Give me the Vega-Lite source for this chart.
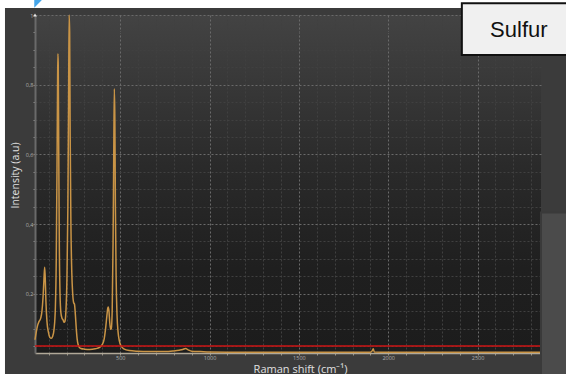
{
  "$schema": "https://vega.github.io/schema/vega-lite/v6.json",
  "width": 506,
  "height": 338,
  "autosize": {"type": "none"},
  "padding": {"left": 35, "top": 15, "right": 25, "bottom": 21},
  "background": "#3b3b3b",
  "config": {
    "view": {
      "stroke": null,
      "fill": {
        "gradient": "linear",
        "x1": 0, "y1": 0, "x2": 0, "y2": 1,
        "stops": [
          {"offset": 0, "color": "#434343"},
          {"offset": 0.45, "color": "#2a2a2a"},
          {"offset": 0.75, "color": "#1f1f1f"},
          {"offset": 1, "color": "#1c1c1c"}
        ]
      }
    },
    "font": "Open Sans"
  },
  "data": {"values": [{}]},
  "datasets": {
    "spectrum": [
      {"shift": 23, "intensity": 0.068},
      {"shift": 30, "intensity": 0.09},
      {"shift": 38, "intensity": 0.11},
      {"shift": 45, "intensity": 0.12},
      {"shift": 55, "intensity": 0.13},
      {"shift": 62, "intensity": 0.15},
      {"shift": 68, "intensity": 0.19},
      {"shift": 73, "intensity": 0.24},
      {"shift": 77, "intensity": 0.276},
      {"shift": 80, "intensity": 0.25},
      {"shift": 84, "intensity": 0.18},
      {"shift": 90, "intensity": 0.12},
      {"shift": 98, "intensity": 0.09},
      {"shift": 106, "intensity": 0.075},
      {"shift": 114, "intensity": 0.072},
      {"shift": 122, "intensity": 0.078},
      {"shift": 130, "intensity": 0.1},
      {"shift": 137, "intensity": 0.16},
      {"shift": 142, "intensity": 0.3},
      {"shift": 146, "intensity": 0.55},
      {"shift": 149, "intensity": 0.78},
      {"shift": 151, "intensity": 0.889},
      {"shift": 153, "intensity": 0.86},
      {"shift": 156, "intensity": 0.6},
      {"shift": 159, "intensity": 0.35},
      {"shift": 163, "intensity": 0.2},
      {"shift": 168, "intensity": 0.145},
      {"shift": 174, "intensity": 0.13},
      {"shift": 180, "intensity": 0.125},
      {"shift": 186, "intensity": 0.118},
      {"shift": 190, "intensity": 0.12},
      {"shift": 196, "intensity": 0.15},
      {"shift": 202, "intensity": 0.25},
      {"shift": 207, "intensity": 0.45},
      {"shift": 211, "intensity": 0.75},
      {"shift": 214, "intensity": 1.0},
      {"shift": 217, "intensity": 0.95},
      {"shift": 220, "intensity": 0.65},
      {"shift": 224, "intensity": 0.4},
      {"shift": 229, "intensity": 0.26},
      {"shift": 234, "intensity": 0.2},
      {"shift": 239, "intensity": 0.175},
      {"shift": 244, "intensity": 0.17},
      {"shift": 249, "intensity": 0.14},
      {"shift": 254, "intensity": 0.1},
      {"shift": 259, "intensity": 0.07},
      {"shift": 264, "intensity": 0.055},
      {"shift": 270, "intensity": 0.047},
      {"shift": 280, "intensity": 0.043},
      {"shift": 300, "intensity": 0.041},
      {"shift": 330, "intensity": 0.04},
      {"shift": 360, "intensity": 0.042},
      {"shift": 385, "intensity": 0.046},
      {"shift": 400, "intensity": 0.055},
      {"shift": 410, "intensity": 0.07},
      {"shift": 418, "intensity": 0.1},
      {"shift": 425, "intensity": 0.135},
      {"shift": 430, "intensity": 0.158},
      {"shift": 433, "intensity": 0.162},
      {"shift": 437, "intensity": 0.15},
      {"shift": 441, "intensity": 0.12},
      {"shift": 446, "intensity": 0.098},
      {"shift": 450, "intensity": 0.1},
      {"shift": 455, "intensity": 0.15},
      {"shift": 460, "intensity": 0.35},
      {"shift": 464, "intensity": 0.62},
      {"shift": 467, "intensity": 0.788},
      {"shift": 470, "intensity": 0.7},
      {"shift": 473, "intensity": 0.45},
      {"shift": 477, "intensity": 0.25},
      {"shift": 482, "intensity": 0.14},
      {"shift": 488, "intensity": 0.09},
      {"shift": 495, "intensity": 0.065},
      {"shift": 505, "intensity": 0.05},
      {"shift": 520, "intensity": 0.042},
      {"shift": 550, "intensity": 0.037},
      {"shift": 600, "intensity": 0.035},
      {"shift": 650, "intensity": 0.034},
      {"shift": 700, "intensity": 0.034},
      {"shift": 750, "intensity": 0.034},
      {"shift": 800, "intensity": 0.036},
      {"shift": 830, "intensity": 0.038},
      {"shift": 850, "intensity": 0.04},
      {"shift": 866, "intensity": 0.043},
      {"shift": 880, "intensity": 0.039},
      {"shift": 900, "intensity": 0.035},
      {"shift": 950, "intensity": 0.034},
      {"shift": 1000, "intensity": 0.033},
      {"shift": 1200, "intensity": 0.032},
      {"shift": 1400, "intensity": 0.032},
      {"shift": 1600, "intensity": 0.032},
      {"shift": 1800, "intensity": 0.032},
      {"shift": 1900, "intensity": 0.032},
      {"shift": 1910, "intensity": 0.036},
      {"shift": 1916, "intensity": 0.042},
      {"shift": 1922, "intensity": 0.033},
      {"shift": 2000, "intensity": 0.032},
      {"shift": 2400, "intensity": 0.032},
      {"shift": 2855, "intensity": 0.032}
    ]
  },
  "layer": [
    {
      "data": {"name": "spectrum"},
      "mark": {"type": "line", "color": "#c99446", "strokeWidth": 1.5, "interpolate": "monotone"},
      "encoding": {
        "x": {
          "field": "shift",
          "type": "quantitative",
          "scale": {"domain": [23, 2855], "nice": false, "zero": false},
          "axis": {
            "values": [100, 200, 300, 400, 500, 600, 700, 800, 900, 1000, 1100, 1200, 1300, 1400, 1500, 1600, 1700, 1800, 1900, 2000, 2100, 2200, 2300, 2400, 2500, 2600, 2700, 2800],
            "tickCount": 200,
            "labelExpr": "datum.value % 500 === 0 ? datum.label : ''",
            "format": "d",
            "labelOverlap": false,
            "labelFontSize": 5.5,
            "labelColor": "#b0b0b0",
            "labelPadding": 0,
            "tickSize": 2,
            "tickColor": "#9a9488",
            "domainColor": "#b0a898",
            "domainWidth": 1.5,
            "grid": true,
            "gridDash": [2, 2],
            "gridColor": {"condition": {"test": "datum.value % 500 === 0", "value": "#6a6a6a"}, "value": "#404040"},
            "title": "Raman shift (cm⁻¹)",
            "titleFontSize": 11,
            "titleFontWeight": "normal",
            "titleColor": "#e0e0e0",
            "titleX": 265,
            "titleY": 19,
            "titleAlign": "center",
            "titleBaseline": "alphabetic"
          }
        },
        "y": {
          "field": "intensity",
          "type": "quantitative",
          "scale": {"domain": [0.03, 1.0], "nice": false, "zero": false},
          "axis": {
            "values": [0.05, 0.1, 0.15, 0.2, 0.25, 0.3, 0.35, 0.4, 0.45, 0.5, 0.55, 0.6, 0.65, 0.7, 0.75, 0.8, 0.85, 0.9, 0.95, 1.0],
            "tickCount": 200,
            "labelExpr": "abs(datum.value * 5 - round(datum.value * 5)) < 0.001 ? replace(format(datum.value, '.1~f'), '.', ',') : ''",
            "labelOverlap": false,
            "labelFontSize": 5.5,
            "labelColor": "#b0b0b0",
            "labelPadding": 0,
            "tickSize": 2,
            "tickColor": "#8a8a8a",
            "domainColor": "#6a6a6a",
            "domainWidth": 2,
            "grid": true,
            "gridDash": [2, 2],
            "gridColor": {"condition": {"test": "abs(datum.value * 5 - round(datum.value * 5)) < 0.001", "value": "#6a6a6a"}, "value": "#404040"},
            "title": "Intensity (a.u)",
            "titleFontSize": 10.5,
            "titleFontWeight": "normal",
            "titleColor": "#e0e0e0",
            "titleAngle": -90,
            "titleX": -20,
            "titleY": 160,
            "titleAlign": "center",
            "titleBaseline": "middle"
          }
        }
      }
    },
    {
      "mark": {"type": "rule", "color": "#cc1414", "strokeWidth": 1.5},
      "encoding": {"y": {"datum": 0.05}}
    },
    {
      "mark": {"type": "point", "shape": "triangle-up", "filled": true, "color": "#e8e8e8", "size": 14, "opacity": 1},
      "encoding": {"x": {"datum": 23}, "y": {"datum": 1.0}}
    },
    {
      "mark": {"type": "rect", "fill": "#4b4b4b", "stroke": "#3a3a3a", "strokeWidth": 2},
      "encoding": {"x": {"datum": 2855}, "x2": {"datum": 3040}, "y": {"datum": 0.433}, "y2": {"datum": -0.07}}
    },
    {
      "mark": {"type": "rect", "fill": "#ffffff"},
      "encoding": {"x": {"datum": -240}, "x2": {"datum": 3040}, "y": {"datum": 1.06}, "y2": {"datum": 1.02}}
    },
    {
      "mark": {"type": "rect", "fill": "#ffffff"},
      "encoding": {"x": {"datum": -240}, "x2": {"datum": -145}, "y": {"datum": 1.06}, "y2": {"datum": -0.07}}
    },
    {
      "mark": {"type": "point", "shape": "M-1,-1L1,-1L-1,1Z", "filled": true, "color": "#45a6ea", "size": 81, "opacity": 1},
      "encoding": {"x": {"datum": 44}, "y": {"datum": 1.034}}
    },
    {
      "mark": {"type": "rect", "fill": "#f0f0f0", "stroke": "#111111", "strokeWidth": 2},
      "encoding": {"x": {"datum": 2412}, "x2": {"datum": 3040}, "y": {"datum": 1.034}, "y2": {"datum": 0.885}}
    },
    {
      "mark": {"type": "text", "text": "Sulfur", "font": "Liberation Sans", "fontSize": 22, "color": "#111111", "align": "center", "baseline": "alphabetic"},
      "encoding": {"x": {"datum": 2731}, "y": {"datum": 0.938}}
    }
  ]
}
